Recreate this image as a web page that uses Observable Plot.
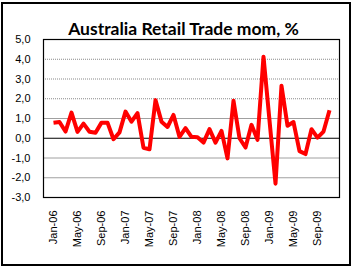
<!DOCTYPE html>
<html>
<head>
<meta charset="utf-8">
<script src="https://cdn.jsdelivr.net/npm/d3@7"></script>
<script src="https://cdn.jsdelivr.net/npm/@observablehq/plot@0.6"></script>
<style>
  html, body { margin: 0; padding: 0; background: #fff; }
  #wrap { position: relative; width: 352px; height: 268px; }
  #border { position: absolute; left: 1px; top: 2px; width: 346px; height: 260px; border: 2px solid #000; pointer-events: none; }
  #chart { position: absolute; left: 0; top: 0; }
</style>
</head>
<body>
<div id="wrap"><div id="chart"></div><div id="border"></div></div>
<script>
const title = "Australia Retail Trade mom, %";
const months = [
  "Jan-06","Feb-06","Mar-06","Apr-06","May-06","Jun-06","Jul-06","Aug-06","Sep-06","Oct-06","Nov-06","Dec-06",
  "Jan-07","Feb-07","Mar-07","Apr-07","May-07","Jun-07","Jul-07","Aug-07","Sep-07","Oct-07","Nov-07","Dec-07",
  "Jan-08","Feb-08","Mar-08","Apr-08","May-08","Jun-08","Jul-08","Aug-08","Sep-08","Oct-08","Nov-08","Dec-08",
  "Jan-09","Feb-09","Mar-09","Apr-09","May-09","Jun-09","Jul-09","Aug-09","Sep-09","Oct-09","Nov-09"
];
const values = [
  0.78, 0.82, 0.34, 1.30, 0.32, 0.74, 0.33, 0.28, 0.79, 0.79, -0.05, 0.30,
  1.35, 0.84, 1.27, -0.48, -0.56, 1.93, 0.84, 0.57, 1.18, 0.07, 0.51, 0.07,
  0.05, -0.22, 0.46, -0.22, 0.37, -1.02, 1.90, 0.00, -0.47, 0.68, -0.08, 4.13,
  0.90, -2.30, 2.66, 0.63, 0.82, -0.65, -0.80, 0.46, 0.03, 0.34, 1.42
];
const xTicks = ["Jan-06","May-06","Sep-06","Jan-07","May-07","Sep-07","Jan-08","May-08","Sep-08","Jan-09","May-09","Sep-09"];
const yTicks = [-3, -2, -1, 0, 1, 2, 3, 4, 5];
const solidGrid = [-2, -1, 1];
const dottedGrid = [2, 3, 4];

const data = months.map((m, i) => ({month: m, value: values[i]}));

const chart = Plot.plot({
  width: 352,
  height: 268,
  marginLeft: 43,
  marginRight: 13,
  marginTop: 39,
  marginBottom: 71,
  style: {fontFamily: "'Liberation Sans', Arial, sans-serif", fontSize: "11px", color: "#000", background: "transparent"},
  x: {type: "point", domain: months, padding: 0.5},
  y: {domain: [-3, 5]},
  marks: [
    Plot.ruleY(solidGrid, {stroke: "#a0a0a0", strokeWidth: 1}),
    Plot.ruleY(dottedGrid, {stroke: "#888", strokeWidth: 1, strokeDasharray: "1,1"}),
    Plot.ruleY([0], {stroke: "#000", strokeWidth: 1.2}),
    Plot.lineY(data, {x: "month", y: "value", stroke: "#ff0000", strokeWidth: 4, strokeLinejoin: "round", strokeLinecap: "butt"}),
    Plot.frame({stroke: "#000", strokeWidth: 1.2}),
    Plot.axisY({ticks: yTicks, tickFormat: d => d.toFixed(1).replace(".", ","), tickSize: 0, tickPadding: 13, label: null, fontSize: 11}),
    Plot.axisX({ticks: xTicks, tickRotate: -90, tickSize: 0, tickPadding: 13, label: null, fontSize: 11}),
    Plot.text([title], {frameAnchor: "top", dx: -8, dy: -17, text: d => d, fontSize: 17.5, fontWeight: "bold", fontFamily: "Lato, 'Open Sans', sans-serif", fill: "#000"})
  ]
});
document.getElementById("chart").appendChild(chart);
</script>
</body>
</html>
